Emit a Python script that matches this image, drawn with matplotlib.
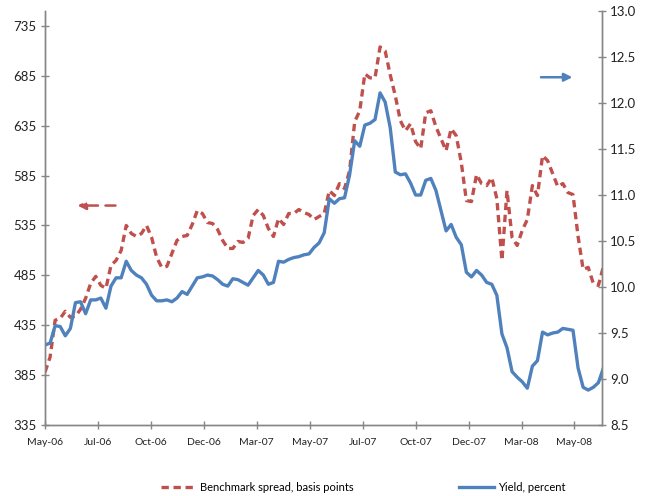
import numpy as np
import pandas as pd
import matplotlib
matplotlib.use("Agg")
import matplotlib.pyplot as plt
import matplotlib.dates as mdates

plt.rcParams['font.family'] = ['Lato', 'DejaVu Sans']

start = pd.Timestamp('2006-05-15')
dates = pd.date_range(start, periods=111, freq='7D')

spread = [388, 403, 440, 442, 449, 443, 444, 451, 462, 477,
          484, 475, 472, 495, 500, 510, 535, 527, 524, 527,
          535, 523, 503, 493, 494, 507, 520, 524, 525, 536,
          550, 547, 538, 537, 531, 520, 512, 512, 519, 518,
          522, 545, 551, 545, 532, 524, 542, 536, 547, 547,
          551, 548, 546, 541, 544, 547, 570, 565, 577, 572,
          590, 639, 650, 687, 683, 683, 714, 710, 686, 665,
          640, 630, 637, 619, 612, 648, 650, 634, 622, 610,
          632, 625, 598, 560, 559, 586, 577, 575, 583, 562,
          500, 570, 523, 515, 530, 541, 575, 565, 605, 600,
          587, 574, 577, 568, 566, 524, 491, 493, 477, 475,
          494]

yld = [9.37, 9.39, 9.58, 9.57, 9.47, 9.55, 9.83, 9.84, 9.71, 9.86,
       9.86, 9.88, 9.77, 10.01, 10.10, 10.10, 10.28, 10.18, 10.13, 10.10,
       10.03, 9.91, 9.85, 9.85, 9.86, 9.84, 9.88, 9.95, 9.92, 10.01,
       10.10, 10.11, 10.13, 10.12, 10.08, 10.03, 10.01, 10.09, 10.08, 10.05,
       10.02, 10.10, 10.18, 10.13, 10.03, 10.05, 10.28, 10.27, 10.30, 10.32,
       10.33, 10.35, 10.36, 10.43, 10.48, 10.59, 10.96, 10.91, 10.96, 10.97,
       11.22, 11.59, 11.53, 11.76, 11.78, 11.82, 12.11, 12.01, 11.73, 11.25,
       11.22, 11.23, 11.13, 11.00, 11.00, 11.16, 11.18, 11.05, 10.83, 10.61,
       10.68, 10.54, 10.46, 10.16, 10.11, 10.18, 10.13, 10.05, 10.03, 9.91,
       9.49, 9.34, 9.08, 9.02, 8.97, 8.90, 9.14, 9.20, 9.51, 9.48,
       9.50, 9.51, 9.55, 9.54, 9.53, 9.12, 8.91, 8.88, 8.91, 8.96,
       9.12]

left_ticks = [335, 385, 435, 485, 535, 585, 635, 685, 735]
right_ticks = [8.5, 9.0, 9.5, 10.0, 10.5, 11.0, 11.5, 12.0, 12.5, 13.0]
xtick_dates = [start + pd.Timedelta(days=73 * k) for k in range(11)]

red = '#C0504D'
blue = '#4F81BD'
grey = '#868686'

fig = plt.figure(figsize=(6.54, 4.96), dpi=100)
ax = fig.add_axes([0.0688, 0.1431, 0.8517, 0.8347])
ax2 = ax.twinx()

l1, = ax.plot(dates, spread, color=red, lw=2.4, ls=(0, (2.2, 1.4)),
              label='Benchmark spread, basis points')
l2, = ax2.plot(dates, yld, color=blue, lw=2.4, label='Yield, percent')

ax.set_ylim(335, 750)
ax.set_yticks(left_ticks)
ax2.set_ylim(8.5, 13.0)
ax2.set_yticks(right_ticks)
ax2.set_yticklabels(['%.1f' % t for t in right_ticks])

ax.set_xlim(start, start + pd.Timedelta(days=768))
ax.set_xticks(xtick_dates)
ax.xaxis.set_major_formatter(mdates.DateFormatter('%b-%y'))

for a in (ax, ax2):
    a.spines['top'].set_visible(False)
    for s in ('left', 'right', 'bottom'):
        a.spines[s].set_color(grey)
        a.spines[s].set_linewidth(1.0)
    a.tick_params(direction='inout', length=6, width=1, color=grey,
                  labelcolor='#222222', labelsize=9.5, pad=3)
ax.tick_params(axis='x', labelsize=7.5, pad=6)

# direction arrows
ax.annotate('', xy=(start + pd.Timedelta(days=41), 555),
            xytext=(start + pd.Timedelta(days=101), 555),
            arrowprops=dict(arrowstyle='-|>', color=red, lw=1.8,
                            ls=(0, (4, 3)), mutation_scale=12))
ax2.annotate('', xy=(start + pd.Timedelta(days=731), 12.28),
             xytext=(start + pd.Timedelta(days=680), 12.28),
             arrowprops=dict(arrowstyle='-|>', color=blue, lw=1.8,
                             mutation_scale=12))

fig.legend(handles=[l1, l2], loc='center', bbox_to_anchor=(0.555, 0.018),
           ncol=2, frameon=False, fontsize=8, handlelength=3.2,
           columnspacing=9.5, handletextpad=0.3)

fig.savefig('out.png', dpi=100)
